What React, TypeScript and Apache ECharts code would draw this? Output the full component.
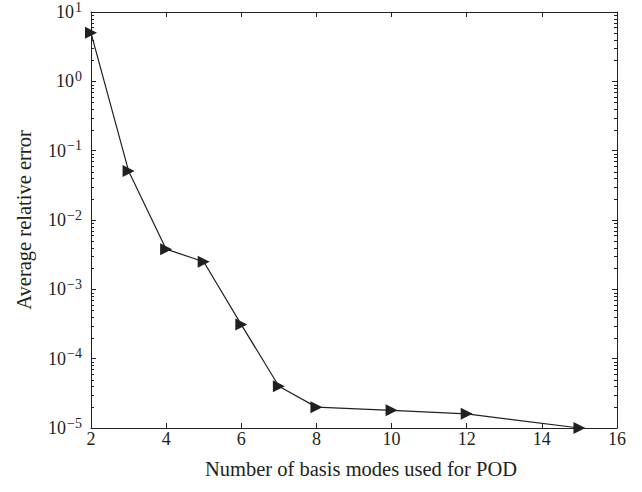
import React, { useEffect, useRef } from "react";
import * as echarts from "echarts";

const modes = [2, 3, 4, 5, 6, 7, 8, 10, 12, 15];
const avgError = [5.0, 0.051, 0.0038, 0.0025, 0.00031, 4.0e-5, 2.0e-5, 1.8e-5, 1.6e-5, 1.0e-5];
const decades = [1e-5, 1e-4, 1e-3, 1e-2, 1e-1, 1e0];
const minorMultipliers = [2, 3, 4, 5, 6, 7, 8, 9];
const xTitle = "Number of basis modes used for POD";
const yTitle = "Average relative error";

const FONT = "'Liberation Serif', 'Times New Roman', serif";
const INK = "#231f20";

export default function App() {
  const ref = useRef<HTMLDivElement>(null);
  useEffect(() => {
    if (!ref.current) return;
    const chart = echarts.init(ref.current, null, { renderer: "svg" });
    const minorData: number[][] = [];
    decades.forEach((d) => minorMultipliers.forEach((m) => minorData.push([2, d * m])));

    const yLabelFmt = (v: number) => {
      const e = Math.round(Math.log10(v));
      return "{b|10}{s|" + String(e).replace("-", "\u2212") + "}";
    };

    const axisLine = { show: true, lineStyle: { color: INK, width: 1 } };
    chart.setOption({
      animation: false,
      backgroundColor: "#ffffff",
      grid: { left: 91, right: 25, top: 12, bottom: 64, containLabel: false },
      xAxis: [
        {
          type: "value",
          min: 2,
          max: 16,
          interval: 2,
          position: "bottom",
          axisLine,
          axisTick: { show: true, inside: true, length: 5, lineStyle: { color: INK } },
          splitLine: { show: false },
          axisLabel: { color: INK, fontFamily: FONT, fontSize: 18, margin: 2 },
          name: xTitle,
          nameLocation: "middle",
          nameGap: 30,
          nameTextStyle: { color: INK, fontFamily: FONT, fontSize: 20.5, padding: [0, 0, 0, 14] },
        },
        {
          type: "value",
          min: 2,
          max: 16,
          interval: 2,
          position: "top",
          axisLine,
          axisTick: { show: true, inside: true, length: 5, lineStyle: { color: INK } },
          splitLine: { show: false },
          axisLabel: { show: false },
        },
      ],
      yAxis: [
        {
          type: "log",
          logBase: 10,
          min: 1e-5,
          max: 10,
          position: "left",
          axisLine,
          axisTick: { show: true, inside: true, length: 5, lineStyle: { color: INK } },
          splitLine: { show: false },
          axisLabel: {
            color: INK,
            margin: 9,
            formatter: yLabelFmt,
            rich: {
              b: { fontFamily: FONT, fontSize: 18, color: INK },
              s: { fontFamily: FONT, fontSize: 14, color: INK, padding: [0, 0, 10, 1] },
            },
          },
          name: yTitle,
          nameLocation: "middle",
          nameGap: 57,
          nameTextStyle: { color: INK, fontFamily: FONT, fontSize: 20.5 },
        },
        {
          type: "log",
          logBase: 10,
          min: 1e-5,
          max: 10,
          position: "right",
          axisLine,
          axisTick: { show: true, inside: true, length: 5, lineStyle: { color: INK } },
          splitLine: { show: false },
          axisLabel: { show: false },
        },
      ],
      series: [
        {
          type: "custom",
          xAxisIndex: 0,
          yAxisIndex: 0,
          silent: true,
          clip: false,
          data: minorData,
          renderItem: (params: any, api: any) => {
            const pt = api.coord([api.value(0), api.value(1)]);
            const cs = params.coordSys;
            const y = Math.round(pt[1]) + 0.5;
            return {
              type: "group",
              children: [
                { type: "line", shape: { x1: cs.x, y1: y, x2: cs.x + 3, y2: y }, style: { stroke: INK, lineWidth: 1 } },
                {
                  type: "line",
                  shape: { x1: cs.x + cs.width - 3, y1: y, x2: cs.x + cs.width, y2: y },
                  style: { stroke: INK, lineWidth: 1 },
                },
              ],
            };
          },
        },
        {
          type: "line",
          xAxisIndex: 0,
          yAxisIndex: 0,
          data: modes.map((m, i) => [m, avgError[i]]),
          clip: false,
          symbol: "triangle",
          symbolSize: [12, 12],
          symbolRotate: -90,
          showSymbol: true,
          lineStyle: { color: INK, width: 1.2 },
          itemStyle: { color: INK, borderWidth: 0 },
          z: 5,
        },
      ],
    });
    return () => chart.dispose();
  }, []);
  return (
    <div
      ref={ref}
      style={{ position: "fixed", left: 0, top: 0, width: 642, height: 492, background: "#fff" }}
    />
  );
}
